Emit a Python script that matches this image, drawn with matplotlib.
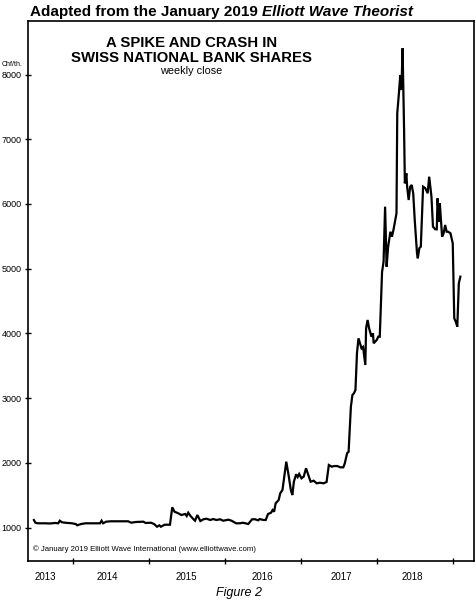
import matplotlib
matplotlib.use("Agg")
import matplotlib.pyplot as plt

plt.rcParams["font.family"] = ["Liberation Sans", "DejaVu Sans"]

# weekly close, Swiss National Bank shares
years = [
    2013.49, 2013.51, 2013.54, 2013.64, 2013.70, 2013.77, 2013.81, 2013.83, 2013.86, 2013.90,
    2013.94, 2013.99, 2014.04, 2014.06, 2014.11, 2014.17, 2014.29, 2014.36, 2014.38, 2014.40,
    2014.44, 2014.50, 2014.62, 2014.73, 2014.77, 2014.83, 2014.93, 2014.96, 2015.03, 2015.07,
    2015.11, 2015.14, 2015.16, 2015.21, 2015.28, 2015.31, 2015.34, 2015.39, 2015.43, 2015.48,
    2015.50, 2015.52, 2015.55, 2015.59, 2015.61, 2015.64, 2015.68, 2015.72, 2015.76, 2015.81,
    2015.85, 2015.89, 2015.94, 2015.98, 2016.05, 2016.09, 2016.15, 2016.20, 2016.24, 2016.31,
    2016.36, 2016.40, 2016.44, 2016.46, 2016.51, 2016.54, 2016.57, 2016.61, 2016.63, 2016.65,
    2016.67, 2016.71, 2016.73, 2016.76, 2016.78, 2016.81, 2016.84, 2016.87, 2016.89, 2016.91,
    2016.94, 2016.96, 2016.98, 2017.01, 2017.04, 2017.07, 2017.10, 2017.13, 2017.17, 2017.21,
    2017.25, 2017.30, 2017.34, 2017.37, 2017.41, 2017.44, 2017.48, 2017.52, 2017.56, 2017.58,
    2017.61, 2017.63, 2017.66, 2017.68, 2017.70, 2017.72, 2017.74, 2017.76, 2017.78, 2017.80,
    2017.82, 2017.85, 2017.86, 2017.88, 2017.90, 2017.93, 2017.95, 2017.96, 2018.00, 2018.02,
    2018.04, 2018.07, 2018.09, 2018.11, 2018.13, 2018.15, 2018.18, 2018.20, 2018.22, 2018.24,
    2018.26, 2018.27, 2018.29, 2018.31, 2018.32, 2018.33, 2018.34, 2018.36, 2018.37, 2018.39,
    2018.40, 2018.42, 2018.44, 2018.46, 2018.48, 2018.50, 2018.53, 2018.54, 2018.56, 2018.58,
    2018.60, 2018.61, 2018.64, 2018.67, 2018.69, 2018.72, 2018.74, 2018.77, 2018.79, 2018.80,
    2018.82, 2018.83, 2018.86, 2018.88, 2018.90, 2018.92, 2018.94, 2018.97, 2019.00, 2019.02,
    2019.04, 2019.06, 2019.08, 2019.10,
]
close = [
    1115, 1074, 1065, 1065, 1062, 1070, 1065, 1105, 1080, 1074,
    1070, 1065, 1054, 1034, 1054, 1065, 1065, 1065, 1105, 1065,
    1090, 1096, 1096, 1096, 1074, 1085, 1090, 1070, 1074, 1054,
    1012, 1034, 1012, 1043, 1043, 1312, 1244, 1219, 1193, 1209,
    1178, 1229, 1178, 1127, 1105, 1193, 1100, 1127, 1136, 1116,
    1131, 1116, 1127, 1105, 1121, 1105, 1065, 1065, 1074, 1054,
    1127, 1127, 1111, 1131, 1116, 1116, 1209, 1229, 1270, 1244,
    1374, 1425, 1528, 1580, 1760, 2017, 1811, 1580, 1502, 1708,
    1822, 1780, 1827, 1760, 1788, 1915, 1811, 1708, 1723, 1683,
    1692, 1683, 1703, 1966, 1940, 1950, 1950, 1930, 1930, 1992,
    2147, 2171, 2867, 3048, 3074, 3125, 3692, 3924, 3847, 3769,
    3790, 3511, 4078, 4207, 4078, 3949, 4001, 3847, 3898, 3949,
    3949, 4948, 5108, 5958, 5030, 5339, 5571, 5494, 5598, 5726,
    5856, 7401, 7684, 7993, 7761, 7967, 8406, 7143, 6319, 6474,
    6267, 6061, 6267, 6293, 6165, 5752, 5237, 5160, 5315, 5340,
    5958, 6267, 6242, 6165, 6421, 6112, 5649, 5608, 5608, 6087,
    5726, 6010, 5494, 5547, 5675, 5571, 5571, 5547, 5392, 4233,
    4180, 4103, 4774, 4876,
]

y_ticks = [1000, 2000, 3000, 4000, 5000, 6000, 7000, 8000]
year_bounds = [2014, 2015, 2016, 2017, 2018, 2019]
year_labels = ["2013", "2014", "2015", "2016", "2017", "2018"]
label_pos = [2013.64, 2014.45, 2015.5, 2016.5, 2017.53, 2018.47]

fig = plt.figure(figsize=(4.77, 6.0), dpi=100)
ax = fig.add_axes([0.0593, 0.0655, 0.9351, 0.9000])

ax.plot(years, close, color="black", lw=1.6, solid_joinstyle="miter")

ax.set_xlim(2013.416, 2019.284)
ax.set_ylim(487, 8832)

ax.set_yticks(y_ticks)
ax.set_yticklabels([str(v) for v in y_ticks], fontsize=6.5)
ax.set_xticks(year_bounds)
ax.set_xticklabels([])
ax.set_xticks(label_pos, minor=True)
ax.set_xticklabels(year_labels, minor=True, fontsize=7)
ax.tick_params(axis="both", which="major", direction="inout", length=5, width=1.0, pad=2.5)
ax.tick_params(axis="x", which="minor", length=0, pad=8)
for s in ax.spines.values():
    s.set_linewidth(1.2)

ax.text(0.366, 0.952, "A SPIKE AND CRASH IN", transform=ax.transAxes,
        ha="center", va="baseline", fontsize=10.7, fontweight="bold")
ax.text(0.366, 0.923, "SWISS NATIONAL BANK SHARES", transform=ax.transAxes,
        ha="center", va="baseline", fontsize=10.7, fontweight="bold")
ax.text(0.366, 0.901, "weekly close", transform=ax.transAxes,
        ha="center", va="baseline", fontsize=7.8)
ax.text(0.011, 0.015, "\u00a9 January 2019 Elliott Wave International (www.elliottwave.com)",
        transform=ax.transAxes, ha="left", va="bottom", fontsize=5.6)

fig.text(0.004, 1 - 66 / 600, "Chf/th.", ha="left", va="baseline", fontsize=5)

# title: bold part + bold italic part
t1 = fig.text(30 / 477, 1 - 16 / 600, "Adapted from the January 2019 ",
              ha="left", va="baseline", fontsize=11, fontweight="bold")
fig.canvas.draw()
bb = t1.get_window_extent(renderer=fig.canvas.get_renderer())
x_end = fig.transFigure.inverted().transform((bb.x1, bb.y0))[0]
fig.text(x_end, 1 - 16 / 600, "Elliott Wave Theorist", ha="left", va="baseline",
         fontsize=11, fontweight="bold", fontstyle="italic")

fig.text(238.8 / 477, 1 - 596 / 600, "Figure 2", ha="center", va="baseline",
         fontsize=9, fontstyle="italic")

fig.savefig("out.png", dpi=100)
